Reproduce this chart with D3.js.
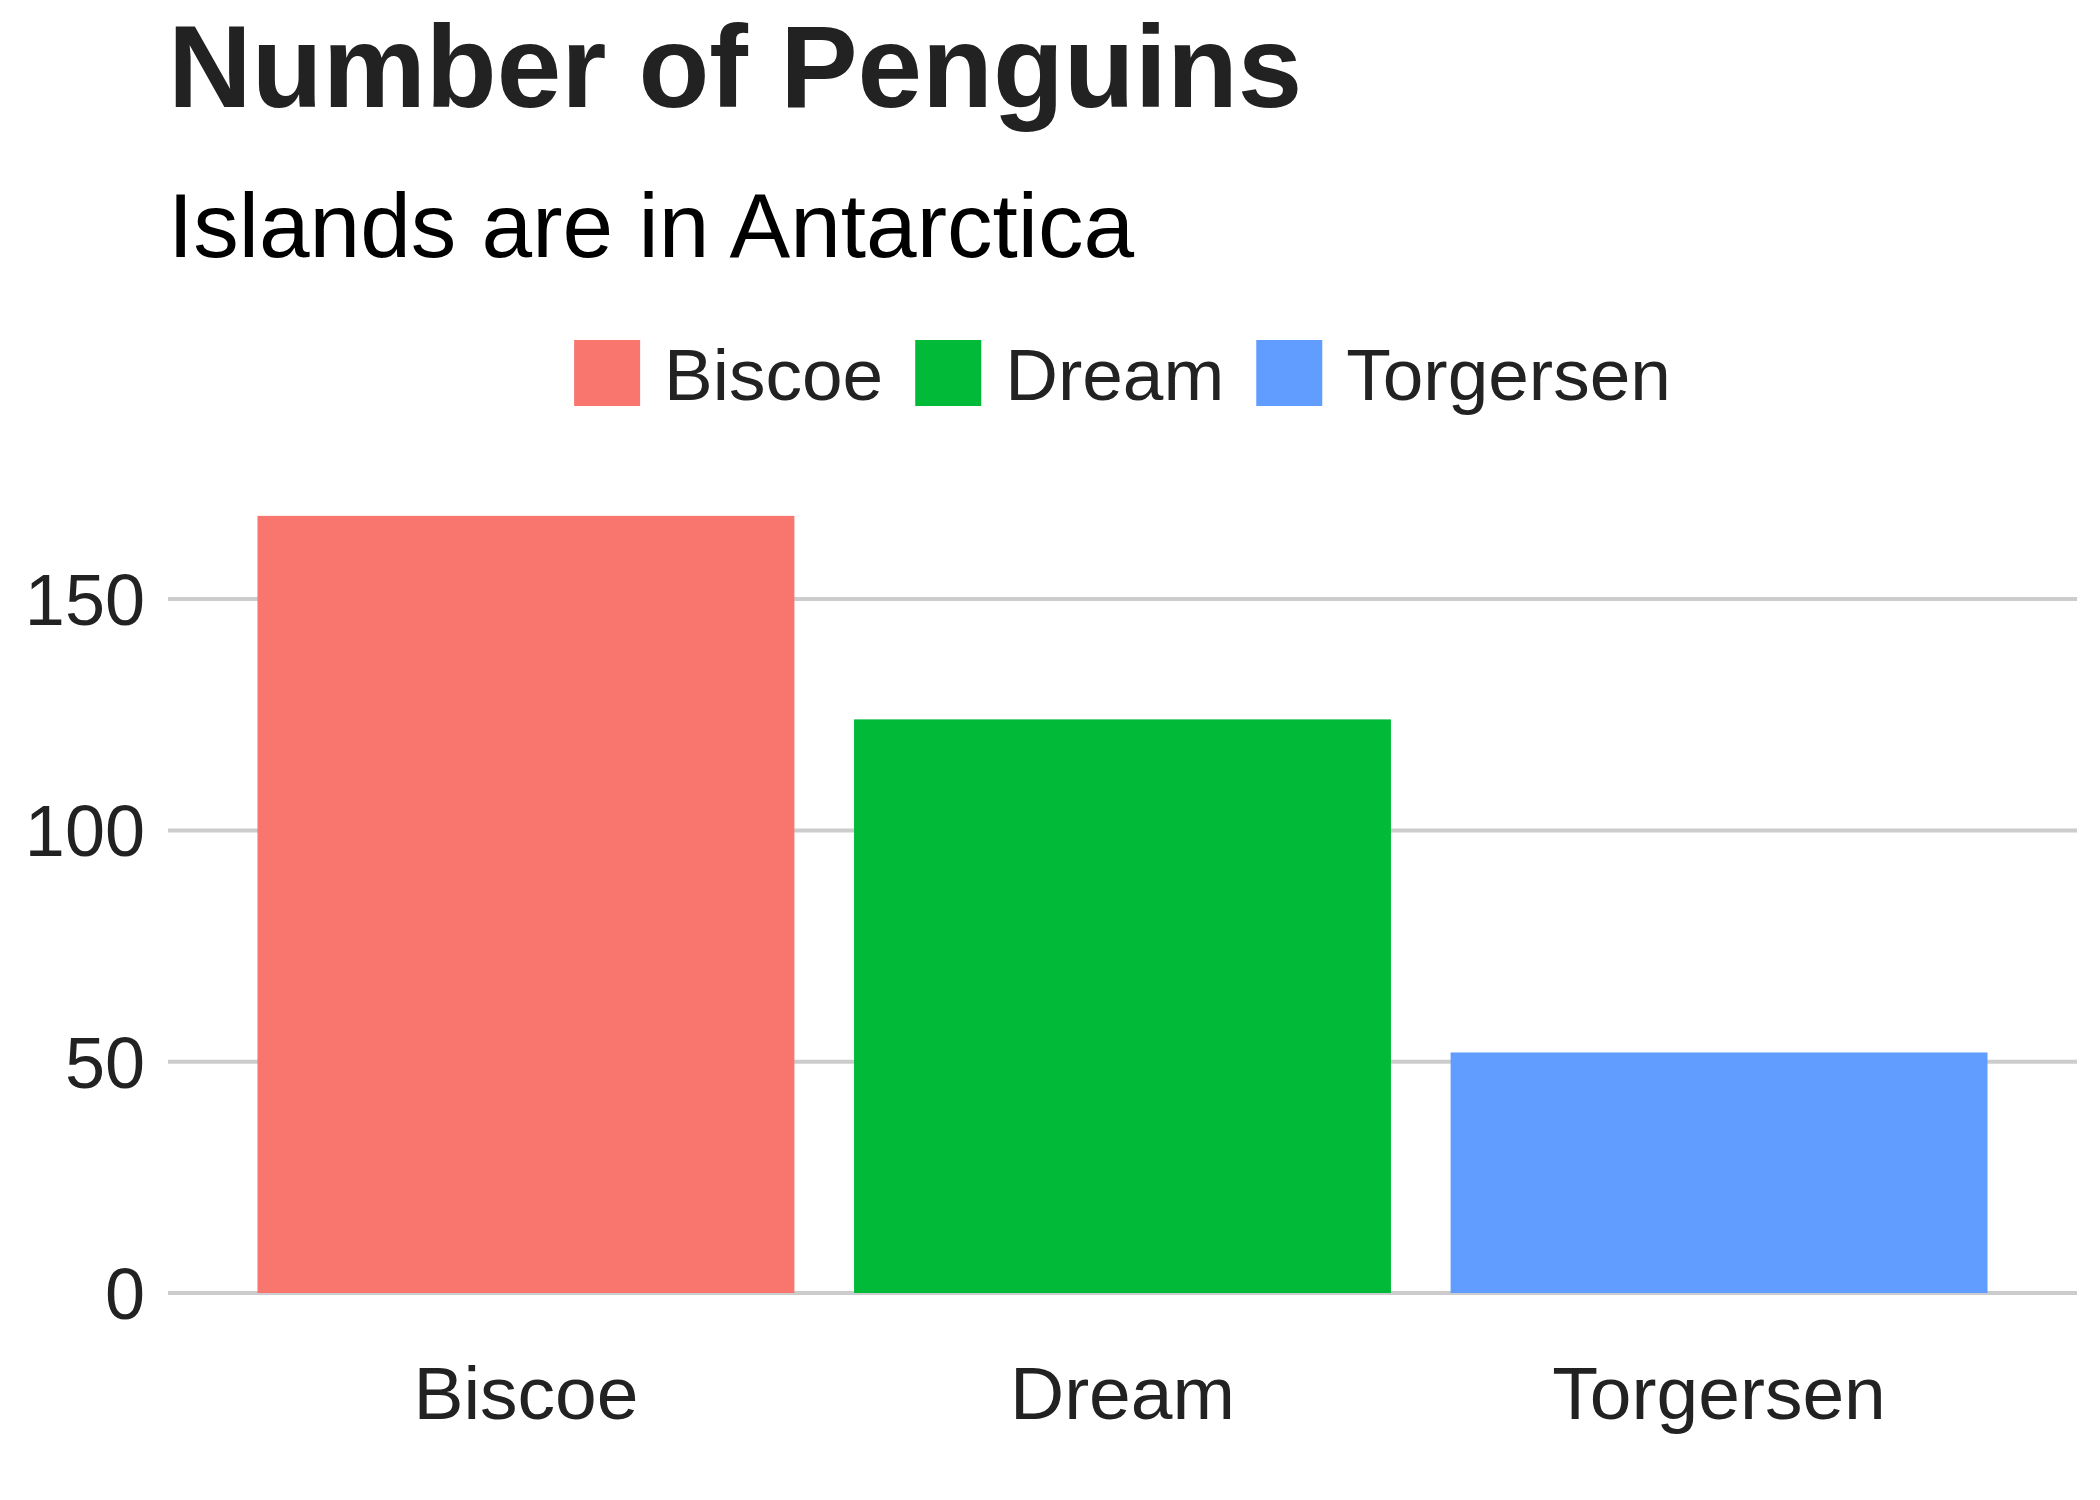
<!DOCTYPE html>
<html>
<head>
<meta charset="utf-8">
<script src="https://cdn.jsdelivr.net/npm/d3@7"></script>
<style>
  html, body { margin: 0; padding: 0; background: #fff; overflow: hidden; }
  svg { display: block; }
  text { font-family: "Liberation Sans", Arial, Helvetica, sans-serif; }
</style>
</head>
<body>
<svg id="chart" width="2100" height="1500"></svg>
<script>
const islands = ['Biscoe', 'Dream', 'Torgersen'];
const counts = [168, 124, 52];
const colors = ['#F8766D', '#00BA38', '#619CFF'];
const yTicks = [0, 50, 100, 150];

const data = islands.map((d, i) => ({island: d, n: counts[i]}));

const svg = d3.select('#chart');
const width = +svg.attr('width');
const height = +svg.attr('height');
const margin = ({top: 477, right: 23, bottom: 207, left: 168});
const innerWidth = width - margin.left - margin.right;
const innerHeight = height - margin.top - margin.bottom;

const x = d3.scaleBand()
  .domain(islands)
  .range([0, innerWidth])
  .paddingInner(0.1)
  .paddingOuter(0.15);

const y = d3.scaleLinear()
  .domain([0, d3.max(counts) * 1.05])
  .range([innerHeight, 0]);

const color = d3.scaleOrdinal().domain(islands).range(colors);

const g = svg.append('g')
  .attr('transform', `translate(${margin.left},${margin.top})`);

// gridlines
g.selectAll('.grid').data(yTicks)
  .enter().append('line')
    .attr('class', 'grid')
    .attr('x1', 0)
    .attr('x2', innerWidth)
    .attr('y1', d => y(d))
    .attr('y2', d => y(d))
    .attr('stroke', '#cccccc')
    .attr('stroke-width', 4);

// y labels
g.selectAll('.ylab').data(yTicks)
  .enter().append('text')
    .attr('class', 'ylab')
    .attr('x', -23)
    .attr('y', d => y(d))
    .attr('dy', '0.36em')
    .attr('text-anchor', 'end')
    .attr('fill', '#222222')
    .style('font-size', '72px')
    .text(d => d);

g.selectAll('rect').data(data)
  .enter().append('rect')
    .attr('x', d => x(d.island))
    .attr('y', d => y(d.n))
    .attr('width', x.bandwidth())
    .attr('height', d => innerHeight - y(d.n))
    .attr('fill', d => color(d.island));

// x labels
g.selectAll('.xlab').data(islands)
  .enter().append('text')
    .attr('class', 'xlab')
    .attr('x', d => x(d) + x.bandwidth() / 2)
    .attr('y', innerHeight + 126)
    .attr('text-anchor', 'middle')
    .attr('fill', '#222222')
    .style('font-size', '75px')
    .text(d => d);

// title and subtitle
svg.append('text')
  .attr('x', margin.left)
  .attr('y', 107)
  .attr('fill', '#222222')
  .style('font-size', '116px')
  .style('font-weight', 'bold')
  .text('Number of Penguins');

svg.append('text')
  .attr('x', margin.left)
  .attr('y', 257)
  .attr('fill', '#000000')
  .style('font-size', '91px')
  .text('Islands are in Antarctica');

// legend
const keySize = 66;
const keyGap = 24;
const itemGap = 32;
const legend = svg.append('g');
let lx = 0;
islands.forEach(d => {
  const item = legend.append('g').attr('transform', `translate(${lx},0)`);
  item.append('rect')
    .attr('width', keySize)
    .attr('height', keySize)
    .attr('fill', color(d));
  const t = item.append('text')
    .attr('x', keySize + keyGap)
    .attr('y', 60)
    .attr('fill', '#222222')
    .style('font-size', '73px')
    .text(d);
  lx += keySize + keyGap + t.node().getComputedTextLength() + itemGap;
});
const legendW = lx - itemGap;
legend.attr('transform', `translate(${margin.left + innerWidth / 2 - legendW / 2},340)`);
</script>
</body>
</html>
